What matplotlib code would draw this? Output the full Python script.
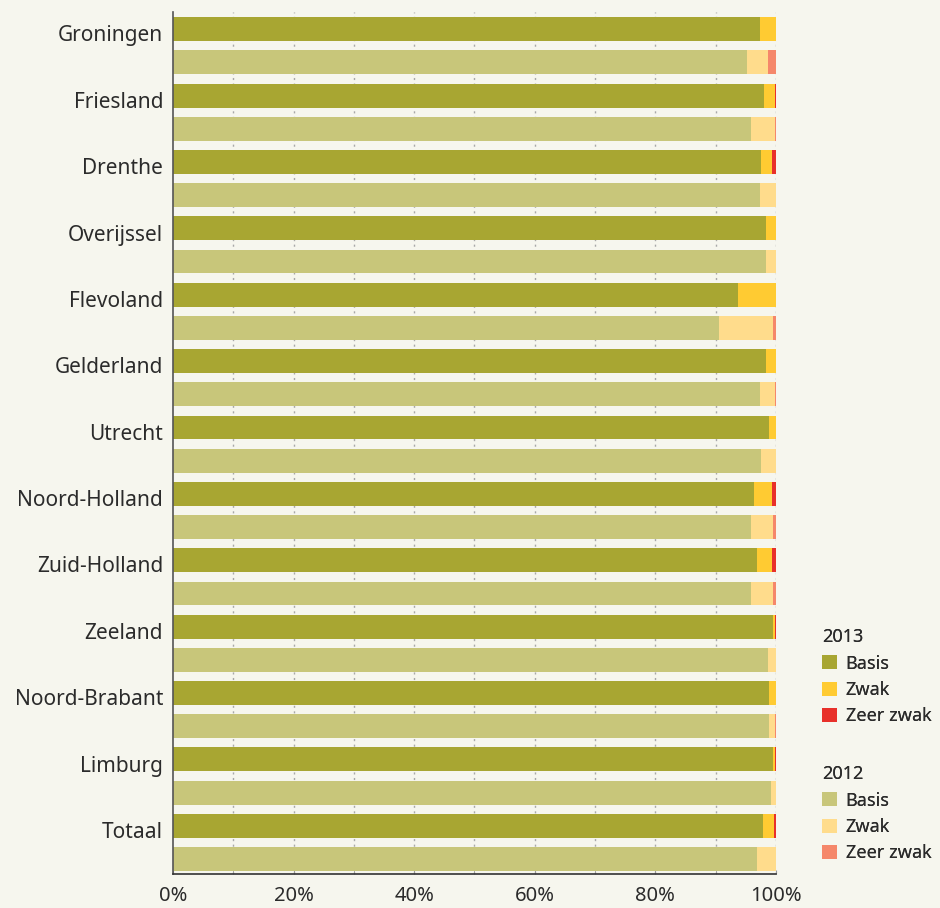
"""Stacked horizontal bars: share of Basis / Zwak / Zeer zwak per province, 2013 vs 2012."""

import matplotlib.pyplot as plt
from matplotlib.patches import Patch
from matplotlib.transforms import ScaledTranslation
import numpy as np

plt.rcParams["font.family"] = ["Noto Sans", "DejaVu Sans"]

provinces = [
    "Groningen", "Friesland", "Drenthe", "Overijssel", "Flevoland", "Gelderland",
    "Utrecht", "Noord-Holland", "Zuid-Holland", "Zeeland", "Noord-Brabant",
    "Limburg", "Totaal",
]

# percentages per province
basis_2013 = [97.3, 98.0, 97.5, 98.3, 93.7, 98.3, 98.8, 96.3, 96.8, 99.5, 98.8, 99.5, 97.8]
zwak_2013 = [2.7, 1.8, 1.8, 1.7, 6.3, 1.7, 1.2, 3.1, 2.6, 0.4, 1.2, 0.4, 1.9]
zeer_2013 = [0.0, 0.2, 0.7, 0.0, 0.0, 0.0, 0.0, 0.6, 0.6, 0.1, 0.0, 0.1, 0.3]

basis_2012 = [95.2, 95.9, 97.3, 98.3, 90.5, 97.3, 97.5, 95.9, 95.9, 98.7, 98.8, 99.2, 96.8]
zwak_2012 = [3.5, 3.9, 2.7, 1.7, 9.0, 2.5, 2.5, 3.6, 3.6, 1.3, 1.0, 0.8, 3.2]
zeer_2012 = [1.3, 0.2, 0.0, 0.0, 0.5, 0.2, 0.0, 0.5, 0.5, 0.0, 0.2, 0.0, 0.0]

colors_2013 = ["#a8a632", "#ffcb32", "#e8302a"]
colors_2012 = ["#c8c67a", "#ffdc8c", "#f5876a"]
bg = "#f6f6ee"
text_color = "#2b2b2b"

fig = plt.figure(figsize=(9.4, 9.08), dpi=100, facecolor=bg)
ax = fig.add_axes([0.184, 0.0375, 0.6415, 0.949], facecolor=bg)

n = len(provinces)
y13 = np.arange(n) * 2
y12 = y13 + 1
h = 0.72


def stack(ax, y, parts, colors):
    left = np.zeros(len(y))
    for vals, c in zip(parts, colors):
        vals = np.asarray(vals)
        ax.barh(y, vals, left=left, height=h, color=c, linewidth=0, zorder=2)
        left += vals


stack(ax, y13, [basis_2013, zwak_2013, zeer_2013], colors_2013)
stack(ax, y12, [basis_2012, zwak_2012, zeer_2012], colors_2012)

ax.set_xlim(0, 100)
ax.set_ylim(2 * n - 0.55, -0.51)
ax.set_xticks(np.arange(0, 101, 20))
ax.set_xticks(np.arange(0, 101, 10), minor=True)
ax.set_xticklabels([f"{v}%" for v in range(0, 101, 20)], fontsize=14.5, color=text_color)
ax.tick_params(axis="x", which="both", direction="in", length=3, color="#999999", pad=9)
ax.set_yticks(y13)
ax.set_yticklabels(provinces, fontsize=15, color=text_color)
ax.tick_params(axis="y", length=0, pad=7)

# labels sit a little below the bar centre in the original
shift = ScaledTranslation(0, -3 / 72, fig.dpi_scale_trans)
for lbl in ax.get_yticklabels():
    lbl.set_transform(lbl.get_transform() + shift)

for x in np.arange(10, 101, 10):
    ax.axvline(x, color="#a8a8a8", linestyle=(0, (1.5, 2.5)), linewidth=1, zorder=1)

for side in ["top", "right"]:
    ax.spines[side].set_visible(False)
ax.spines["left"].set_color("#555555")
ax.spines["bottom"].set_color("#333333")
ax.spines["left"].set_linewidth(1.2)
ax.spines["bottom"].set_linewidth(1.2)

labels = ["Basis", "Zwak", "Zeer zwak"]
for title, cols, top in [("2013", colors_2013, 619), ("2012", colors_2012, 756)]:
    handles = [Patch(facecolor=c, edgecolor="none") for c in cols]
    leg = fig.legend(
        handles, labels, title=title, loc="upper left",
        bbox_to_anchor=(813 / 940, 1 - top / 908), frameon=False,
        fontsize=13, title_fontsize=13, handlelength=0.85, handleheight=0.85,
        handletextpad=0.45, labelspacing=0.47, alignment="left", borderpad=0,
        labelcolor=text_color,
    )
    leg.get_title().set_color(text_color)
    fig.add_artist(leg)

fig.savefig("out.png", dpi=100, facecolor=bg)
